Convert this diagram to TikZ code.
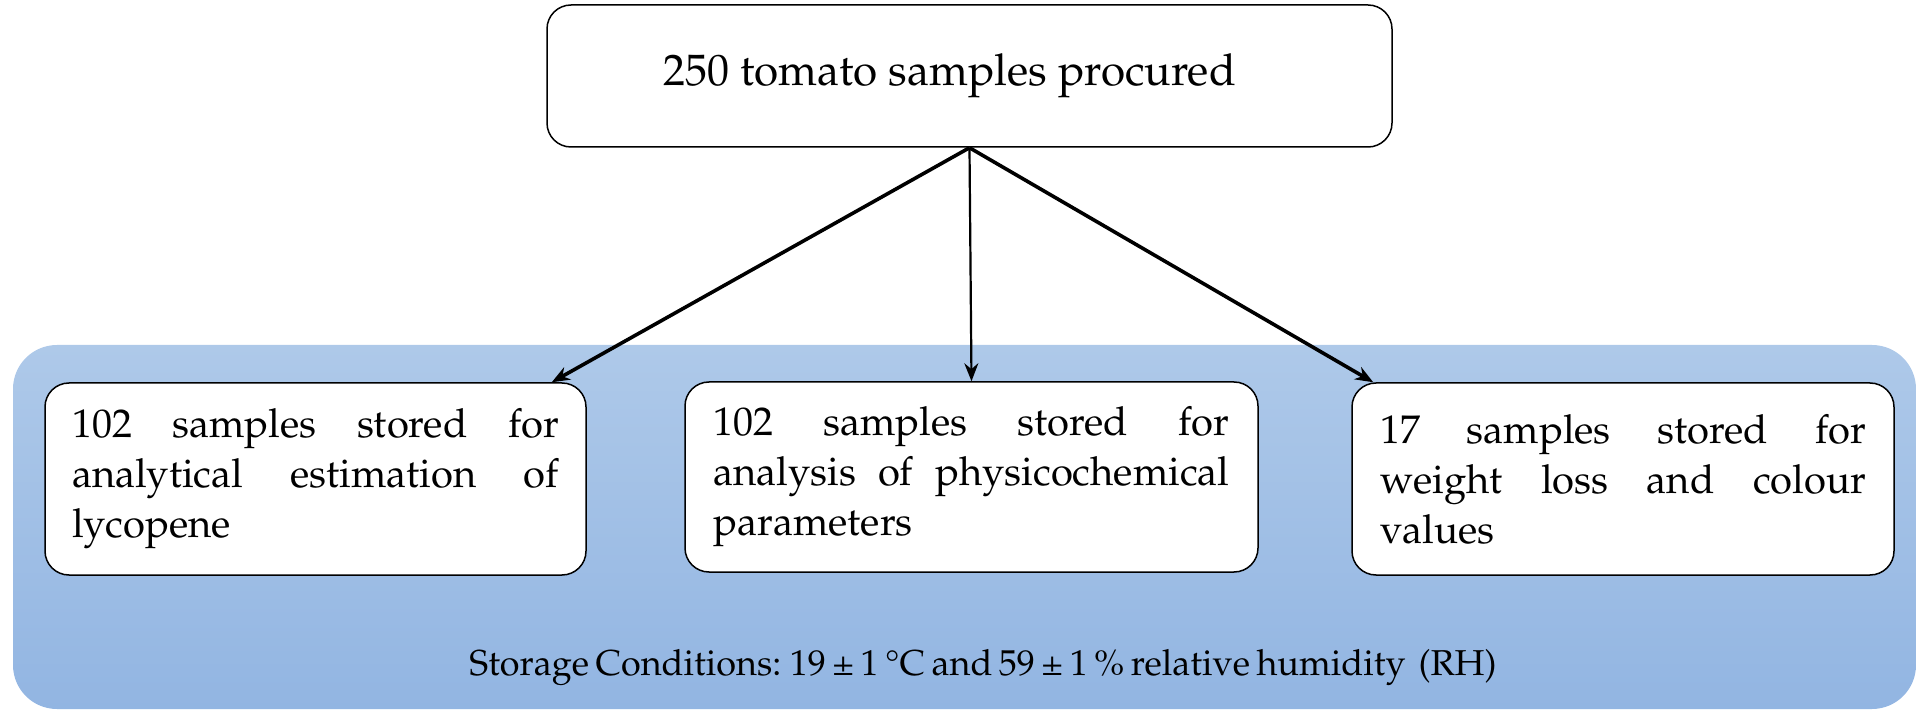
\documentclass[tikz,border=0pt]{standalone}
\usepackage[T1]{fontenc}
\usepackage{mathpazo}
\usepackage{textcomp}
\usetikzlibrary{arrows.meta}
\usetikzlibrary{positioning}

\definecolor{bgtop}{HTML}{AEC9E9}
\definecolor{bgbot}{HTML}{92B5E2}

\begin{document}
\begin{tikzpicture}[
    x=0.5pt, y=-0.5pt,
    box/.style={draw, rounded corners=12pt, fill=white, line width=0.75pt,
                align=justify, inner xsep=0pt, inner ysep=0pt},
    arr/.style={-{Stealth[length=9pt, width=7pt]}, line width=1.8pt},
    font=\fontsize{20}{25}\selectfont
]
    \hbadness=10000
    \useasboundingbox (0,0) rectangle (1919,711);

    % 背景 (存储条件)
    \shade[top color=bgtop, bottom color=bgbot, rounded corners=22pt]
        (13,345) rectangle (1916,709);
    \node[font=\fontsize{18}{22}\selectfont] (cond) at (983,668)
        {\spaceskip=0.18em Storage Conditions: 19 \textpm\ 1 \textdegree C and 59 \textpm\ 1 \% relative humidity\ \ (RH)};

    % 节点定义
    \node[box, minimum width=422.5pt, minimum height=71pt, align=center,
          font=\fontsize{22}{25}\selectfont] (top) at (969.5,76)
        {250 tomato samples procured\hspace*{20pt}};
    \node[box, minimum width=270.5pt, minimum height=96pt, text width=243.5pt] (lbox) at (315.5,479)
        {102 samples stored for\linebreak analytical estimation of\linebreak lycopene};
    \node[box, minimum width=286.5pt, minimum height=95pt, text width=258pt] (mbox) at (971.5,477)
        {102 samples stored for\linebreak analysis of physicochemical\linebreak parameters};
    \node[box, minimum width=271pt, minimum height=96pt, text width=243pt] (rbox) at (1623,479)
        {17 samples stored for\linebreak weight loss and colour\linebreak values};

    % 箭头
    \draw[arr] (top.south) -- ([xshift=-17.5pt]lbox.north east);
    \draw[arr, line width=1.1pt] (top.south) -- (mbox.north);
    \draw[arr] (top.south) -- ([xshift=11pt]rbox.north west);

\end{tikzpicture}
\end{document}
